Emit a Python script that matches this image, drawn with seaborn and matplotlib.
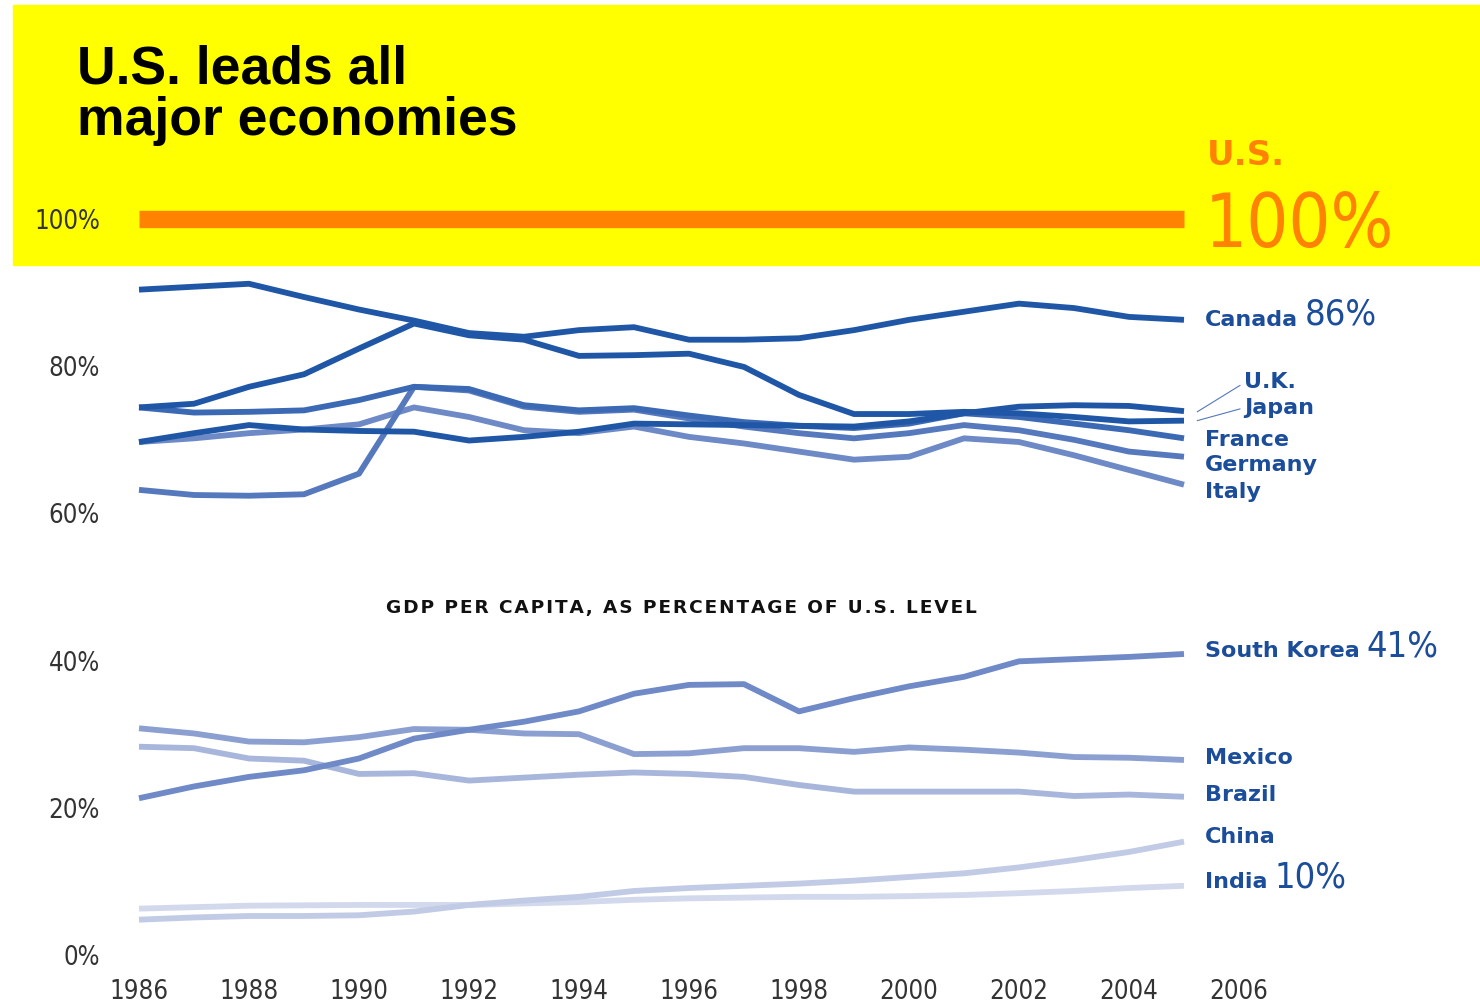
import os
import matplotlib
matplotlib.use("Agg")
import matplotlib.pyplot as plt
from matplotlib import font_manager
from matplotlib.font_manager import FontProperties
from matplotlib.patches import Rectangle
import pandas as pd
import seaborn as sns

# === data (share of U.S. GDP per capita, %) ===
years = list(range(1986, 2006))
us = [100, 100, 100, 100, 100, 100, 100, 100, 100, 100,
      100, 100, 100, 100, 100, 100, 100, 100, 100, 100]
canada = [90.4, 90.8, 91.2, 89.4, 87.7, 86.2, 84.5, 84.0, 84.9, 85.3,
          83.6, 83.6, 83.8, 84.9, 86.3, 87.4, 88.5, 87.9, 86.7, 86.3]
japan = [74.4, 74.9, 77.2, 78.9, 82.4, 85.8, 84.2, 83.6, 81.4, 81.5,
         81.7, 79.9, 76.1, 73.5, 73.5, 73.8, 73.6, 73.1, 72.5, 72.6]
uk = [69.7, 70.9, 72.0, 71.4, 71.2, 71.1, 69.9, 70.4, 71.1, 72.2,
      72.1, 72.0, 71.9, 71.8, 72.5, 73.6, 74.5, 74.7, 74.6, 73.9]
france = [74.4, 73.7, 73.8, 74.0, 75.4, 77.2, 76.9, 74.7, 74.0, 74.3,
          73.3, 72.4, 71.9, 71.6, 72.2, 73.6, 73.1, 72.2, 71.3, 70.2]
germany = [63.2, 62.5, 62.4, 62.6, 65.4, 77.2, 76.7, 74.5, 73.8, 74.1,
           72.9, 71.8, 70.9, 70.2, 70.9, 72.0, 71.3, 70.0, 68.4, 67.7]
italy = [69.7, 70.2, 70.9, 71.4, 72.1, 74.4, 73.1, 71.3, 70.9, 71.8,
         70.4, 69.5, 68.4, 67.3, 67.7, 70.2, 69.7, 67.9, 65.9, 63.9]
south_korea = [21.3, 22.9, 24.2, 25.1, 26.7, 29.4, 30.6, 31.7, 33.1, 35.5,
               36.7, 36.8, 33.1, 34.9, 36.5, 37.8, 39.9, 40.2, 40.5, 40.9]
mexico = [30.8, 30.1, 29.0, 28.9, 29.6, 30.7, 30.6, 30.1, 30.0, 27.3,
          27.4, 28.1, 28.1, 27.6, 28.2, 27.9, 27.5, 26.9, 26.8, 26.5]
brazil = [28.3, 28.1, 26.7, 26.4, 24.6, 24.7, 23.7, 24.1, 24.5, 24.8,
          24.6, 24.2, 23.1, 22.2, 22.2, 22.2, 22.2, 21.6, 21.8, 21.5]
china = [4.8, 5.1, 5.3, 5.3, 5.4, 5.9, 6.8, 7.4, 7.9, 8.7,
         9.1, 9.4, 9.7, 10.1, 10.6, 11.1, 11.9, 12.9, 14.0, 15.4]
india = [6.3, 6.5, 6.7, 6.75, 6.8, 6.8, 6.8, 7.0, 7.2, 7.5,
         7.7, 7.8, 7.9, 7.9, 8.0, 8.15, 8.4, 8.7, 9.1, 9.4]

countries = ["India", "China", "Brazil", "Mexico", "South Korea",
             "Italy", "Germany", "France", "U.K.", "Japan", "Canada", "U.S."]
values = [india, china, brazil, mexico, south_korea,
          italy, germany, france, uk, japan, canada, us]

colors = {
    "U.S.": "#ff8200", "Canada": "#1f57a6", "Japan": "#1f57a6", "U.K.": "#1f57a6",
    "France": "#3b69b4", "Germany": "#5679bd", "Italy": "#6d8ac6",
    "South Korea": "#6f8ac6", "Mexico": "#8b9fd0", "Brazil": "#a8b6dc",
    "China": "#c1cbe5", "India": "#d2d9ed",
}

df = pd.concat([pd.DataFrame({"year": years, "share": v, "country": c})
                for c, v in zip(countries, values)], ignore_index=True)

# === style ===
sns.set_theme(style="white")
plt.rcParams["font.family"] = ["DejaVu Sans"]
BLUE_TXT = "#1b4d9a"
ORANGE = "#ff8200"


def find_narrow():
    # look for any installed narrow / condensed face, regular or light weight
    best = None
    for f in font_manager.fontManager.ttflist:
        tag = (f.name + " " + os.path.basename(f.fname)).lower()
        narrow = ("narrow" in tag or "condensed" in tag
                  or f.stretch in ("condensed", "semi-condensed", "extra-condensed"))
        if not narrow or f.style != "normal":
            continue
        w = f.weight if isinstance(f.weight, int) else 400
        if w > 400:
            continue
        score = ("liberation" in tag) * 2 + ("dejavu" in tag)
        if best is None or score > best[0]:
            best = (score, f.fname)
    return best[1] if best else None


NARROW_FILE = find_narrow()


def narrow(size):
    if NARROW_FILE:
        return FontProperties(fname=NARROW_FILE, size=size)
    return FontProperties(family="Liberation Sans", size=size * 0.84)


fig = plt.figure(figsize=(14.8, 10.05), dpi=100, facecolor="white")
# yellow header band
fig.patches.append(Rectangle((13 / 1480, 1 - 265 / 1005), 1 - 13 / 1480, 260 / 1005,
                             transform=fig.transFigure, color="#ffff00", zorder=0))

ax = fig.add_axes([139 / 1480, 50 / 1005, 1100 / 1480, 736 / 1005])
ax.set_zorder(1)
ax.set_facecolor("none")

for c in countries:
    sub = df[df["country"] == c]
    sns.lineplot(data=sub, x="year", y="share", ax=ax, color=colors[c],
                 legend=False, solid_capstyle="butt", solid_joinstyle="round")
    ax.lines[-1].set_linewidth(12.5 if c == "U.S." else 4.2)
    ax.lines[-1].set_clip_on(False)

ax.set_xlim(1986, 2006)
ax.set_ylim(0, 100)
ax.set_xticks(range(1986, 2007, 2))
ax.set_yticks(range(0, 101, 20))
ax.set_yticklabels([f"{v}%" for v in range(0, 101, 20)])
ax.set_xlabel("")
ax.set_ylabel("")
for s in ax.spines.values():
    s.set_visible(False)
ax.tick_params(axis="both", length=0, labelcolor="#333333")
ax.tick_params(axis="y", pad=28)
ax.tick_params(axis="x", pad=17)
for lab in ax.get_xticklabels() + ax.get_yticklabels():
    lab.set_fontproperties(narrow(18.5))

# === right-hand labels ===
lx = 1986 + (1205 - 139) / 55
lx2 = 1986 + (1244 - 139) / 55
labels = {
    "Canada": (lx, 86.3, "86%"), "U.K.": (lx2, 77.9, None), "Japan": (lx2, 74.3, None),
    "France": (lx, 70.0, None), "Germany": (lx, 66.6, None), "Italy": (lx, 62.9, None),
    "South Korea": (lx, 41.3, "41%"), "Mexico": (lx, 26.8, None),
    "Brazil": (lx, 21.7, None), "China": (lx, 16.0, None), "India": (lx, 9.9, "10%"),
}
for name, (x, y, pct) in labels.items():
    t = ax.text(x, y, name, fontsize=16, fontweight="bold", color=BLUE_TXT,
                ha="left", va="center", clip_on=False)
    if pct:
        ax.annotate(pct, xy=(1, 0), xycoords=t, xytext=(5, 3.5),
                    textcoords="offset points", va="baseline", ha="left",
                    color=BLUE_TXT, fontproperties=narrow(26))

# leader lines for U.K. / Japan
ax.plot([2005.24, 2006.02], [73.8, 77.4], color="#5577bb", lw=0.8, clip_on=False)
ax.plot([2005.24, 2006.02], [72.6, 74.2], color="#5577bb", lw=0.8, clip_on=False)

# U.S. label
ax.text(1986 + (1207 - 139) / 55, 107.3, "U.S.", fontsize=24.5, fontweight="bold",
        color=ORANGE, ha="left", va="baseline", clip_on=False)
ax.text(1986 + (1205 - 139) / 55, 96.2, "100%", color=ORANGE,
        fontproperties=narrow(53), ha="left", va="baseline", clip_on=False)

# sub heading
sub_title = "\u200a".join("GDP PER CAPITA, AS PERCENTAGE OF U.S. LEVEL")
ax.text(1986 + (681.5 - 139) / 55, 47.1, sub_title, fontsize=13.3, fontweight="bold",
        color="#111111", ha="center", va="center")

# title
fig.text(77 / 1480, 1 - 83 / 1005, "U.S. leads all", family="Liberation Sans",
         fontweight="bold", fontsize=38.5, color="black", va="baseline")
fig.text(77 / 1480, 1 - 135 / 1005, "major economies", family="Liberation Sans",
         fontweight="bold", fontsize=38.5, color="black", va="baseline")

fig.savefig("out.png", dpi=100, facecolor="white")
